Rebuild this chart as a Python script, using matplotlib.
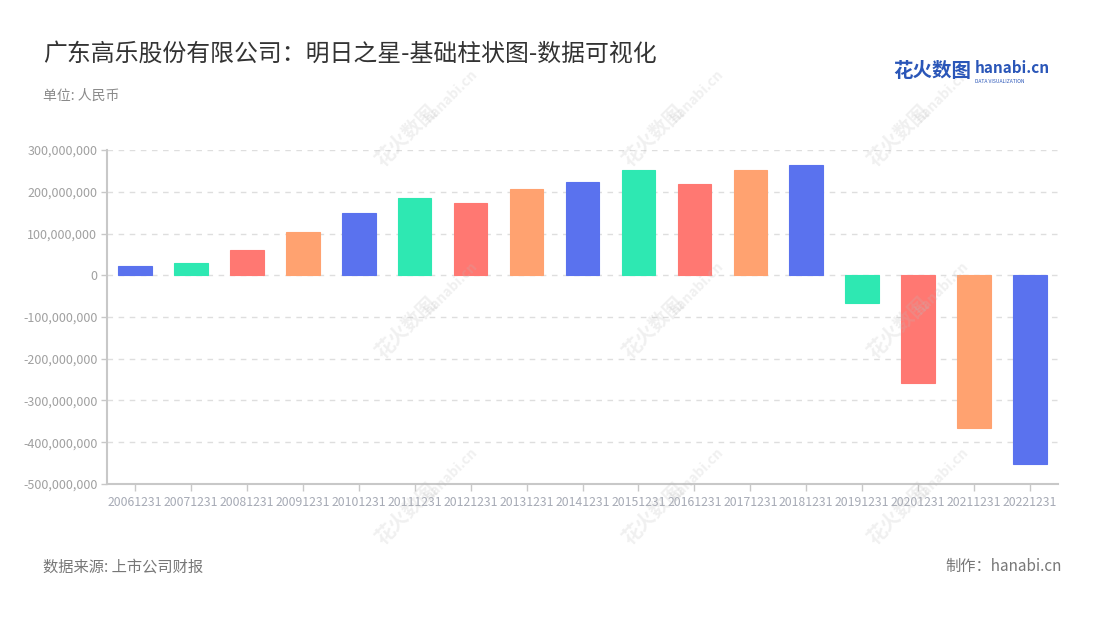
import matplotlib
matplotlib.use("Agg")
import matplotlib.pyplot as plt
from matplotlib.ticker import FuncFormatter

plt.rcParams['font.family'] = ['Noto Sans CJK SC', 'DejaVu Sans']

categories = ["20061231", "20071231", "20081231", "20091231", "20101231", "20111231",
              "20121231", "20131231", "20141231", "20151231", "20161231", "20171231",
              "20181231", "20191231", "20201231", "20211231", "20221231"]
values = [23e6, 29e6, 61e6, 103e6, 149e6, 185e6, 173e6, 207e6, 224e6, 252e6,
          219e6, 252e6, 264e6, -67e6, -258e6, -367e6, -451e6]
palette = ['#5a72ee', '#2ee8b2', '#ff7872', '#ffa270']
yticks = [300e6, 200e6, 100e6, 0, -100e6, -200e6, -300e6, -400e6, -500e6]

title = "广东高乐股份有限公司：明日之星-基础柱状图-数据可视化"
subtitle = "单位: 人民币"
source = "数据来源: 上市公司财报"
maker = "制作：hanabi.cn"

fig = plt.figure(figsize=(11, 6.2), dpi=100)
ax = fig.add_axes([0.0973, 0.2194, 0.8645, 0.5386])

colors = [palette[i % len(palette)] for i in range(len(values))]
x = list(range(len(categories)))
ax.bar(x, values, width=0.6, color=colors, edgecolor=colors,
       linewidth=0.8, zorder=3)

ax.set_xlim(-0.5, len(categories) - 0.5)
ax.set_ylim(-500e6, 300e6)
ax.set_yticks(yticks)
ax.yaxis.set_major_formatter(FuncFormatter(lambda v, p: f"{int(v):,}"))
ax.set_xticks(x)
ax.set_xticklabels(categories)
ax.tick_params(axis='x', colors='#c8c8c8', labelcolor='#a6aab5', labelsize=8.8,
               length=5, width=1, pad=4)
ax.tick_params(axis='y', colors='#c8c8c8', labelcolor='#a0a0a0', labelsize=9,
               length=4, width=1, pad=3)
ax.grid(axis='y', linestyle=(0, (4, 4)), color='#dedede', linewidth=1, zorder=0)
for s in ['top', 'right']:
    ax.spines[s].set_visible(False)
for s in ['left', 'bottom']:
    ax.spines[s].set_color('#c8c8c8')
    ax.spines[s].set_linewidth(1.5)

# faint watermarks
wm = dict(rotation=45, color='#bbbbbb', alpha=0.22, ha='center', va='center',
          fontweight='bold', zorder=0)
for wx in [0.37, 0.594, 0.817]:
    for wy in [0.78, 0.47, 0.17]:
        fig.text(wx, wy, "花火数图", fontsize=14, **wm)
        fig.text(wx + 0.04, wy + 0.065, "hanabi.cn", fontsize=10, **wm)

fig.text(0.039, 0.912, title, fontsize=17.2, color='#333333', va='center', ha='left')
fig.text(0.039, 0.846, subtitle, fontsize=10, color='#8a8a8a', va='center', ha='left')
fig.text(0.039, 0.086, source, fontsize=11, color='#777777', va='center', ha='left')
fig.text(0.965, 0.086, maker, fontsize=11, color='#777777', va='center', ha='right')

# logo
fig.text(0.812, 0.884, "花火数图", fontsize=14, color='#2a56b8', fontweight='bold',
         va='center', ha='left')
fig.text(0.886, 0.890, "hanabi.cn", fontsize=11, color='#2a56b8', fontweight='bold',
         va='center', ha='left')
fig.text(0.886, 0.868, "DATA VISUALIZATION", fontsize=3.6, color='#2a56b8',
         va='center', ha='left')

fig.savefig("out.png", dpi=100, facecolor='white')
